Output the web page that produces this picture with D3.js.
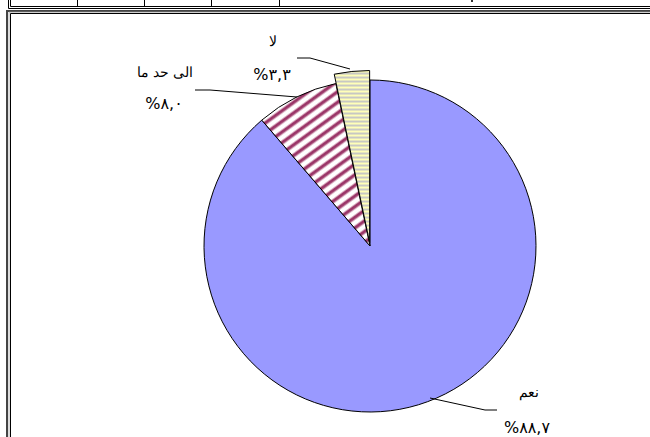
<!DOCTYPE html>
<html><head><meta charset="utf-8">
<script src="https://cdn.jsdelivr.net/npm/d3@7"></script>
<style>html,body{margin:0;padding:0;background:#fff;overflow:hidden}</style>
</head><body>
<svg id="c" width="650" height="437"></svg>
<script>
const categories = ["نعم", "الى حد ما", "لا"];
const values = [88.7, 8.0, 3.3];
const valueLabels = ["%٨٨,٧", "%٨,٠", "%٣,٣"];

const svg = d3.select("#c");

// page frame / table remnants
const g0 = svg.append("g").attr("fill", "none");
g0.append("path").attr("d", "M8.5,0V8.5H650").attr("stroke", "#000").attr("stroke-width", 1);
g0.append("path").attr("d", "M10.5,0V6.5H650").attr("stroke", "#000").attr("stroke-width", 1);
[77.5, 144.5, 211.5, 279.5].forEach(x => g0.append("line").attr("x1", x).attr("x2", x).attr("y1", 0).attr("y2", 6.5).attr("stroke", "#000"));
g0.append("path").attr("d", "M7,437V11H650").attr("stroke", "#444").attr("stroke-width", 2);
g0.append("path").attr("d", "M10.5,437V13.5H650").attr("stroke", "#000").attr("stroke-width", 1);
g0.append("path").attr("d", "M9,437V12.2H650").attr("stroke", "#aaa").attr("stroke-width", 0.8);
svg.append("rect").attr("x", 471).attr("y", 0).attr("width", 2).attr("height", 2).attr("fill", "#333");

// patterns
const defs = svg.append("defs");
const pm = defs.append("pattern").attr("id", "maroon").attr("patternUnits", "userSpaceOnUse")
  .attr("width", 10).attr("height", 8.6).attr("patternTransform", "rotate(-36)");
pm.append("rect").attr("width", 10).attr("height", 8.6).attr("fill", "#fff");
pm.append("rect").attr("y", 0).attr("width", 10).attr("height", 4.6).attr("fill", "#d8aabe");
pm.append("rect").attr("y", 1).attr("width", 10).attr("height", 2.6).attr("fill", "#993366");

const py = defs.append("pattern").attr("id", "yellow").attr("patternUnits", "userSpaceOnUse")
  .attr("width", 10).attr("height", 4);
py.append("rect").attr("width", 10).attr("height", 4).attr("fill", "#ffffb8");
py.append("rect").attr("y", 2).attr("width", 10).attr("height", 2).attr("fill", "#c8c8c4");

const fills = ["#9999ff", "url(#maroon)", "url(#yellow)"];

const cx = 370, cy = 246, R = 166;
const pie = d3.pie().sort(null).value(d => d)(values);
const arc = d3.arc().innerRadius(0).outerRadius(R);
const arcBig = d3.arc().innerRadius(0).outerRadius(172);

const g = svg.append("g").attr("transform", `translate(${cx},${cy})`);
pie.forEach((p, i) => {
  let path, tr = "";
  if (i === 2) {
    const mid = (p.startAngle + p.endAngle) / 2;
    tr = `translate(${Math.sin(mid) * 3.5},${-Math.cos(mid) * 3.5})`;
    path = arcBig(p);
  } else path = arc(p);
  g.append("path").attr("d", path).attr("transform", tr)
    .attr("fill", fills[i]).attr("stroke", "#000").attr("stroke-width", 1)
    .attr("stroke-linejoin", "round");
});

// leader lines
const leaders = [
  [[430, 398], [485, 410], [497, 410]],
  [[297, 97], [210, 90], [195, 90]],
  [[350, 69], [310, 58], [297, 58]]
];
leaders.forEach(pts => svg.append("path").attr("d", d3.line()(pts))
  .attr("fill", "none").attr("stroke", "#000").attr("stroke-width", 1));

// labels
const labelPos = [[527, 433], [164, 109], [272, 80]];
const catPos = [[529, 397], [165, 77], [273, 46]];
const font = "'DejaVu Sans', 'Liberation Sans', Arial, sans-serif";
categories.forEach((c, i) => {
  svg.append("text").attr("x", catPos[i][0]).attr("y", catPos[i][1])
    .attr("text-anchor", "middle").attr("direction", "rtl")
    .attr("font-family", font).attr("font-size", 14).attr("font-weight", 300)
    .attr("fill", "#000").text(c);
  svg.append("text").attr("x", labelPos[i][0]).attr("y", labelPos[i][1])
    .attr("text-anchor", "middle")
    .attr("font-family", font).attr("font-size", 16).attr("letter-spacing", 1.5)
    .attr("fill", "#000").text(valueLabels[i]);
});
</script>
</body></html>
